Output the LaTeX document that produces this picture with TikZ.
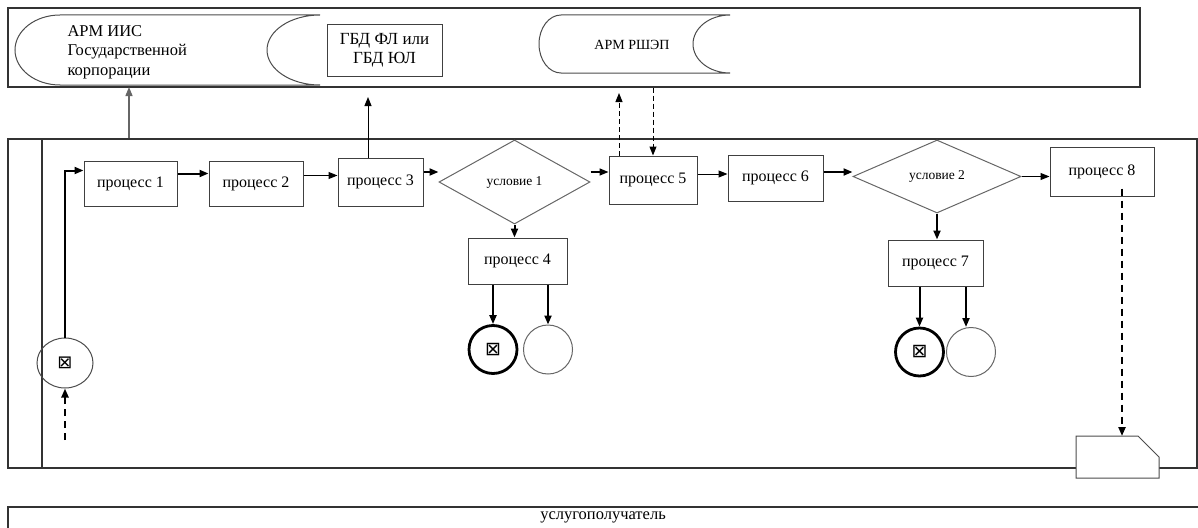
\documentclass[tikz,border=0pt]{standalone}
\usepackage{fontspec}
\setmainfont{Liberation Serif}
\newfontfamily\symfont{DejaVu Sans}
\usetikzlibrary{arrows.meta,shapes.geometric}

\begin{document}
\begin{tikzpicture}[
    x = 1pt, y = -1pt,
    >={Triangle[length=9pt,width=7pt]},
    lane/.style = {draw = black!80, line width = 1.2pt, inner sep = 0pt},
    store/.style = {draw = black!70, line width = 1pt},
    proc/.style = {
      draw = black!75,
      line width = 1pt,
      rectangle,
      inner sep = 0pt,
      font = \fontsize{16}{19}\selectfont
    },
    cond/.style = {
      draw = black!60,
      line width = 1pt,
      diamond,
      inner sep = 0pt,
      font = \fontsize{13.5}{15}\selectfont
    },
    endbold/.style = {draw, circle, line width = 2.8pt, minimum size = 48pt,
      inner sep = 0pt, font = \symfont\fontsize{19}{19}\selectfont},
    endplain/.style = {draw = black!60, circle, line width = 1pt,
      minimum size = 49pt, inner sep = 0pt},
    flow/.style = {line width = 1pt},
    boldflow/.style = {line width = 2pt},
    greyflow/.style = {draw = black!60, line width = 1.3pt},
    dashflow/.style = {line width = 2.2pt, dash pattern = on 7pt off 5pt},
    thindash/.style = {line width = 1pt, dash pattern = on 5pt off 3pt}
  ]
  \useasboundingbox (0,0) rectangle (1198,527);

  % lanes
  \node[lane, minimum width = 1132pt, minimum height = 79pt] (toplane) at (574,47.5) {};
  \node[lane, minimum width = 1189pt, minimum height = 329pt] (midlane) at (602.5,303.5) {};
  \draw[lane] (42,139) -- (42,468);
  \draw[lane] (8,528) |- (1199,507);
  \node[font = \fontsize{16.5}{19}\selectfont] (client) at (603,517) {услугополучатель};

  % top lane
  \draw[store] (60,85) arc[start angle = 90, end angle = 270, x radius = 45, y radius = 35]
    -- (320,15) arc[start angle = 270, end angle = 90, x radius = 53, y radius = 35] -- cycle;
  \node[anchor = west, align = left, font = \fontsize{16.5}{19.5}\selectfont] (iis) at (64,52)
    {АРМ ИИС\\Государственной\\корпорации};
  \node[proc, minimum width = 115pt, minimum height = 51pt, align = center,
    font = \fontsize{17}{19}\selectfont] (gbd) at (384.5,50.5) {ГБД ФЛ или\\ГБД ЮЛ};
  \draw[store] (561,73) arc[start angle = 90, end angle = 270, x radius = 22, y radius = 29]
    -- (730,15) arc[start angle = 270, end angle = 90, x radius = 37, y radius = 29] -- cycle;
  \node[font = \fontsize{14}{16}\selectfont] (rshep) at (632,45) {АРМ РШЭП};

  \coordinate (iisin) at (129,87);
  \coordinate (gbdin) at (368,97);
  \coordinate (rshup) at (619,93);

  % middle lane
  \node[draw = black!70, ellipse, line width = 1pt, minimum width = 56pt, minimum height = 50pt,
    inner sep = 0pt, font = \symfont\fontsize{18}{18}\selectfont] (start) at (65,363) {⊠};
  \coordinate (startin) at (65,440);

  \node[proc, minimum width = 93pt, minimum height = 45pt] (p1) at (130.5,183.5) {процесс 1};
  \node[proc, minimum width = 94pt, minimum height = 45pt] (p2) at (256,183.5) {процесс 2};
  \node[proc, minimum width = 85pt, minimum height = 48pt] (p3) at (380.5,182) {процесс 3};
  \node[cond, minimum width = 151pt, minimum height = 84pt] (c1) at (514.5,182) {условие 1};
  \node[proc, minimum width = 99pt, minimum height = 46pt] (p4) at (517.5,261) {процесс 4};
  \node[proc, minimum width = 88pt, minimum height = 48pt] (p5) at (653,180) {процесс 5};
  \node[proc, minimum width = 95pt, minimum height = 46pt] (p6) at (775.5,178) {процесс 6};
  \node[cond, minimum width = 168pt, minimum height = 73pt] (c2) at (937,176.5) {условие 2};
  \node[proc, minimum width = 95pt, minimum height = 46pt] (p7) at (935.5,263) {процесс 7};
  \node[proc, minimum width = 104pt, minimum height = 49pt] (p8) at (1102,171.5) {процесс 8};

  \node[endbold] (e4a) at (493,349.5) {⊠};
  \node[endplain] (e4b) at (548,349.5) {};
  \node[endbold] (e7a) at (919.5,352) {⊠};
  \node[endplain] (e7b) at (971,352) {};

  \draw[store, fill = white] (1076,436) -- (1138,436) -- (1159,457) -- (1159,478)
    -- (1076,478) -- cycle;
  \coordinate (doc) at (1122,436);

  % connectors
  \draw[greyflow, ->] (iisin |- midlane.north) -- (iisin);
  \draw[flow, ->] (gbdin |- p3.north) -- (gbdin);
  \draw[thindash, ->] (rshup |- p5.north) -- (rshup);
  \draw[thindash, ->] (p5.north |- toplane.south) -- (p5.north);

  \draw[dashflow, ->] (startin) -- (start.south);
  \draw[boldflow, ->] (start.north) |- ([yshift = 13pt]p1.west);
  \draw[boldflow, ->] ([yshift = 10pt]p1.east) -- ([yshift = 10pt]p1.east -| p2.west);
  \draw[flow, ->] ([yshift = 8pt]p2.east) -- ([yshift = 8pt]p2.east -| p3.west);
  \draw[boldflow, ->] ([yshift = 10pt]p3.east) -- ([yshift = 10pt]p3.east -| c1.west);
  \draw[flow, line width = 1.5pt, ->] ([yshift = 8pt]p5.west -| c1.east) -- ([yshift = 8pt]p5.west);
  \draw[flow, ->] ([yshift = 6pt]p5.east) -- ([yshift = 6pt]p5.east -| p6.west);
  \draw[boldflow, ->] ([yshift = 6pt]p6.east) -- ([yshift = 6pt]p6.east -| c2.west);
  \draw[flow, ->] (c2.east) -- (c2.east -| p8.west);

  \draw[boldflow, ->] (c1.south) -- (c1.south |- p4.north);
  \draw[boldflow, ->] (c2.south) -- (c2.south |- p7.north);
  \draw[boldflow, ->] (e4a |- p4.south) -- (e4a.north);
  \draw[boldflow, ->] (e4b |- p4.south) -- (e4b.north);
  \draw[boldflow, ->] ([xshift = -5pt]e7b.north |- p7.south) -- ([xshift = -5pt]e7b.north);
  \draw[boldflow, ->] (e7a |- p7.south) -- (e7a.north);

  \draw[dashflow, ->] ([yshift = 8pt]doc |- p8.south) -- (doc);

\end{tikzpicture}
\end{document}
